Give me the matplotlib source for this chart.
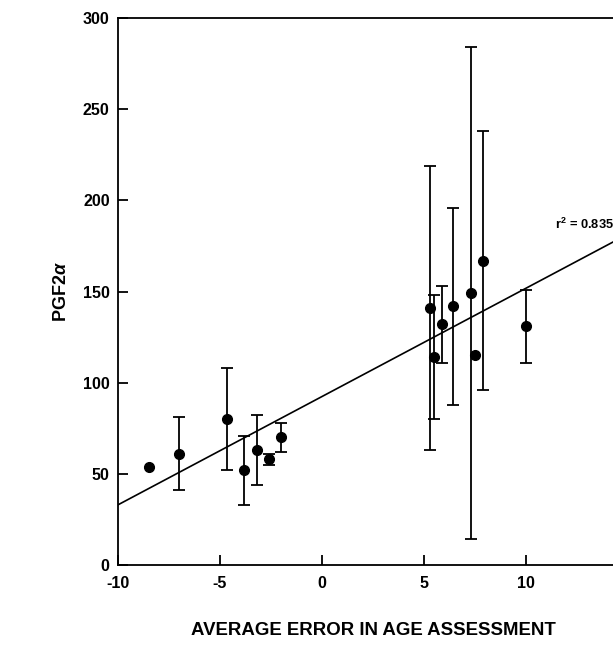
import matplotlib
matplotlib.use("Agg")
import matplotlib.pyplot as plt
import numpy as np

plt.rcParams['font.family'] = ['Liberation Sans', 'DejaVu Sans']
plt.rcParams['font.weight'] = 'bold'
plt.rcParams['axes.unicode_minus'] = False
plt.rcParams['mathtext.fontset'] = 'custom'
plt.rcParams['mathtext.rm'] = 'Liberation Sans:bold'
plt.rcParams['mathtext.it'] = 'Liberation Sans:italic:bold'
plt.rcParams['mathtext.bf'] = 'Liberation Sans:bold'

# data
x_err_age = [-8.5, -7.0, -4.67, -3.8, -3.2, -2.6, -2.0, 5.3, 5.5, 5.9, 6.4, 7.3, 7.5, 7.9, 10.0]
pgf = [54, 61, 80, 52, 63, 58, 70, 141, 114, 132, 142, 149, 115, 167, 131]
err_lo = [0, 20, 28, 19, 19, 3, 8, 78, 34, 21, 54, 135, 0, 71, 20]
err_hi = [0, 20, 28, 19, 19, 3, 8, 78, 34, 21, 54, 135, 0, 71, 20]
fit_intercept = 92.4
fit_slope = 5.94
r2_text = "r$^2$ = 0.835"

fig = plt.figure(figsize=(6.13, 6.54), dpi=100)
ax = fig.add_axes([118/613, 89/654, 510/613, 547/654])

xs = np.array(x_err_age)
ys = np.array(pgf)
yerr = np.array([err_lo, err_hi])
has = (yerr.sum(axis=0) > 0)
ax.errorbar(xs[has], ys[has], yerr=yerr[:, has], fmt='none', ecolor='black',
            elinewidth=1.3, capsize=4, capthick=1.3)
ax.plot(xs, ys, 'o', color='black', markersize=7, zorder=3)

lx = np.array([-10, 15])
ax.plot(lx, fit_intercept + fit_slope * lx, color='black', lw=1.2)

ax.text(11.4, 187, r2_text, fontsize=9.3, fontweight='bold', ha='left', va='center')

ax.set_xlim(-10, 15)
ax.set_ylim(0, 300)
ax.set_xticks([-10, -5, 0, 5, 10])
ax.set_yticks([0, 50, 100, 150, 200, 250, 300])
ax.tick_params(direction='in', length=7, width=1.3, labelsize=11.5, pad=8)
for lab in ax.get_xticklabels() + ax.get_yticklabels():
    lab.set_fontweight('bold')
ax.tick_params(axis='y', pad=6)
for s in ax.spines.values():
    s.set_linewidth(1.3)

ax.set_xlabel("AVERAGE ERROR IN AGE ASSESSMENT", fontsize=13.4, fontweight='bold', labelpad=22)
ax.set_ylabel(r"PGF2$\alpha$", fontsize=13, fontweight='bold', labelpad=9)

fig.savefig("out.png", dpi=100)
